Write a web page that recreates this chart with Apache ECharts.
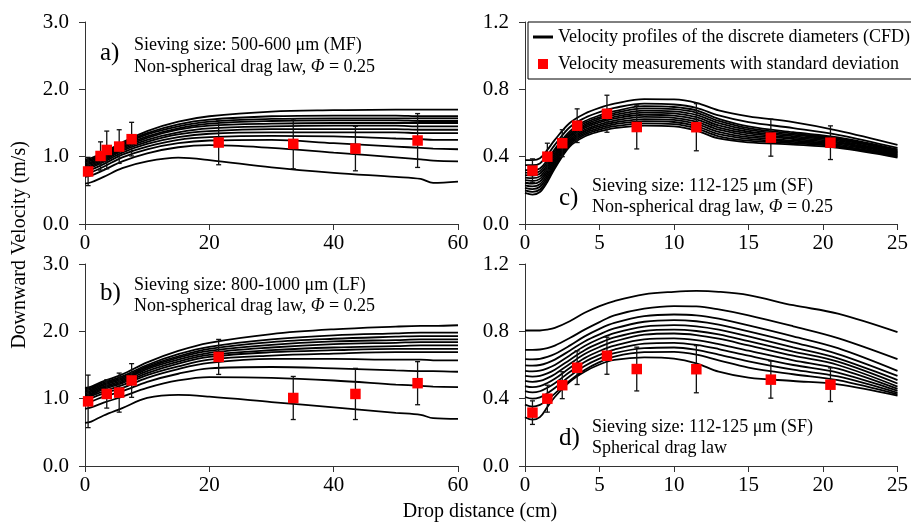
<!DOCTYPE html>
<html>
<head>
<meta charset="utf-8">
<script src="https://cdn.jsdelivr.net/npm/echarts@6/dist/echarts.min.js"></script>
<style>html,body{margin:0;padding:0;background:#fff}#c{width:911px;height:523px}</style>
</head>
<body>
<div id="c"></div>
<script>
// ---------- data ----------
const xTicksAB = [0, 20, 40, 60];
const xTicksCD = [0, 5, 10, 15, 20, 25];
const distCurveAB = [0, 1, 3, 6, 10, 15, 20, 30, 40, 50, 54, 56, 60];
const distCurveCD = [0, 0.5, 1, 1.5, 2, 3, 4, 5, 6, 8, 10, 11.5, 13, 15, 18, 21, 25];

// panel a: MF, non-spherical
const curvesA = [
  [0.96,0.98,1.06,1.21,1.38,1.52,1.60,1.67,1.69,1.70,1.70,1.70,1.70],
  [0.94,0.96,1.04,1.19,1.35,1.48,1.55,1.60,1.61,1.61,1.60,1.60,1.60],
  [0.92,0.94,1.02,1.17,1.33,1.45,1.52,1.56,1.57,1.57,1.57,1.57,1.57],
  [0.90,0.92,1.00,1.15,1.30,1.42,1.49,1.53,1.54,1.54,1.53,1.53,1.53],
  [0.88,0.90,0.98,1.13,1.28,1.40,1.46,1.49,1.50,1.50,1.50,1.50,1.50],
  [0.86,0.88,0.96,1.11,1.25,1.36,1.42,1.45,1.46,1.46,1.45,1.45,1.45],
  [0.84,0.86,0.94,1.09,1.22,1.33,1.38,1.41,1.41,1.41,1.40,1.40,1.40],
  [0.82,0.84,0.92,1.06,1.19,1.29,1.34,1.36,1.36,1.36,1.35,1.35,1.35],
  [0.79,0.81,0.89,1.03,1.15,1.25,1.29,1.31,1.30,1.27,1.26,1.25,1.25],
  [0.75,0.77,0.85,0.99,1.11,1.20,1.24,1.25,1.20,1.15,1.13,1.12,1.11],
  [0.70,0.72,0.80,0.93,1.05,1.14,1.17,1.13,1.06,0.99,0.96,0.94,0.93],
  [0.60,0.62,0.70,0.83,0.93,0.985,0.95,0.84,0.76,0.70,0.67,0.61,0.63]
];
// panel b: LF, non-spherical
const curvesB = [
  [1.16,1.18,1.26,1.36,1.54,1.71,1.83,1.96,2.03,2.07,2.08,2.08,2.09],
  [1.14,1.16,1.24,1.33,1.50,1.66,1.77,1.88,1.94,1.97,1.98,1.98,1.98],
  [1.12,1.14,1.22,1.31,1.48,1.63,1.74,1.84,1.89,1.92,1.93,1.93,1.93],
  [1.10,1.12,1.20,1.29,1.46,1.61,1.71,1.80,1.85,1.87,1.88,1.88,1.88],
  [1.08,1.10,1.18,1.27,1.44,1.58,1.68,1.76,1.81,1.83,1.84,1.84,1.84],
  [1.06,1.08,1.16,1.25,1.41,1.55,1.65,1.72,1.76,1.78,1.79,1.79,1.79],
  [1.04,1.06,1.14,1.23,1.38,1.52,1.62,1.69,1.72,1.74,1.74,1.74,1.74],
  [1.02,1.04,1.11,1.20,1.35,1.48,1.58,1.64,1.67,1.69,1.69,1.69,1.69],
  [0.99,1.01,1.08,1.16,1.31,1.44,1.53,1.59,1.59,1.58,1.58,1.57,1.57],
  [0.94,0.96,1.03,1.11,1.25,1.37,1.45,1.47,1.45,1.42,1.41,1.41,1.40],
  [0.85,0.87,0.94,1.03,1.16,1.27,1.32,1.31,1.27,1.21,1.19,1.18,1.17],
  [0.64,0.66,0.75,0.86,1.01,1.055,1.03,0.95,0.87,0.79,0.76,0.71,0.70]
];
// panel c: SF, non-spherical
const curvesC = [
  [0.38,0.38,0.39,0.44,0.50,0.60,0.655,0.69,0.715,0.742,0.74,0.72,0.675,0.64,0.605,0.555,0.47],
  [0.35,0.35,0.36,0.41,0.47,0.575,0.63,0.665,0.69,0.715,0.71,0.69,0.645,0.605,0.57,0.53,0.452],
  [0.32,0.32,0.33,0.38,0.445,0.55,0.61,0.645,0.67,0.70,0.695,0.675,0.625,0.58,0.545,0.515,0.443],
  [0.305,0.304,0.314,0.366,0.432,0.54,0.60,0.634,0.659,0.687,0.682,0.662,0.612,0.569,0.537,0.508,0.438],
  [0.29,0.288,0.299,0.351,0.419,0.53,0.59,0.624,0.648,0.674,0.669,0.648,0.599,0.559,0.529,0.501,0.432],
  [0.275,0.272,0.283,0.337,0.407,0.52,0.58,0.613,0.637,0.662,0.657,0.635,0.586,0.548,0.521,0.494,0.427],
  [0.26,0.256,0.268,0.322,0.394,0.51,0.57,0.603,0.626,0.649,0.644,0.622,0.573,0.538,0.513,0.487,0.422],
  [0.245,0.24,0.252,0.308,0.381,0.50,0.56,0.592,0.614,0.636,0.631,0.608,0.56,0.527,0.505,0.48,0.416],
  [0.23,0.223,0.236,0.294,0.368,0.49,0.55,0.582,0.603,0.623,0.618,0.595,0.547,0.516,0.496,0.473,0.411],
  [0.215,0.207,0.221,0.279,0.356,0.48,0.54,0.571,0.592,0.611,0.606,0.582,0.534,0.506,0.488,0.466,0.406],
  [0.20,0.191,0.205,0.265,0.343,0.47,0.53,0.561,0.581,0.598,0.593,0.568,0.521,0.495,0.48,0.459,0.40],
  [0.185,0.175,0.19,0.25,0.33,0.46,0.52,0.55,0.57,0.585,0.58,0.555,0.508,0.485,0.472,0.452,0.395]
];
// panel d: SF, spherical
const curvesD = [
  [0.805,0.805,0.805,0.81,0.82,0.86,0.91,0.95,0.98,1.02,1.035,1.04,1.035,1.015,0.955,0.905,0.795],
  [0.69,0.69,0.692,0.70,0.715,0.76,0.81,0.855,0.895,0.935,0.95,0.948,0.93,0.895,0.83,0.76,0.635],
  [0.635,0.634,0.637,0.648,0.665,0.715,0.77,0.815,0.85,0.89,0.90,0.895,0.875,0.835,0.77,0.70,0.565],
  [0.598,0.596,0.60,0.613,0.632,0.685,0.74,0.782,0.817,0.857,0.867,0.86,0.84,0.80,0.735,0.665,0.535],
  [0.565,0.562,0.566,0.58,0.60,0.657,0.713,0.756,0.79,0.828,0.837,0.83,0.81,0.77,0.705,0.64,0.51],
  [0.535,0.531,0.535,0.55,0.572,0.63,0.688,0.73,0.764,0.802,0.81,0.802,0.782,0.742,0.68,0.62,0.49],
  [0.506,0.50,0.505,0.522,0.545,0.606,0.665,0.707,0.74,0.78,0.787,0.778,0.756,0.716,0.655,0.60,0.472],
  [0.475,0.468,0.474,0.493,0.518,0.582,0.641,0.683,0.715,0.752,0.758,0.748,0.724,0.685,0.628,0.578,0.458],
  [0.445,0.437,0.444,0.465,0.492,0.558,0.618,0.66,0.692,0.727,0.732,0.72,0.695,0.655,0.60,0.555,0.446],
  [0.41,0.40,0.408,0.432,0.463,0.533,0.594,0.638,0.67,0.70,0.704,0.69,0.662,0.622,0.572,0.532,0.435],
  [0.365,0.353,0.363,0.392,0.43,0.507,0.57,0.617,0.65,0.676,0.678,0.662,0.628,0.585,0.545,0.51,0.426],
  [0.29,0.275,0.29,0.35,0.41,0.50,0.56,0.603,0.63,0.645,0.638,0.61,0.56,0.525,0.505,0.485,0.418]
];

// measurements
const distMF = [0.5, 2.5, 3.5, 5.5, 7.5, 21.5, 33.5, 43.5, 53.5];
const velMF  = [0.78, 1.01, 1.10, 1.15, 1.26, 1.21, 1.19, 1.12, 1.24];
const sdMF   = [0.21, 0.21, 0.28, 0.25, 0.25, 0.33, 0.37, 0.33, 0.40];
const distLF = [0.5, 3.5, 5.5, 7.5, 21.5, 33.5, 43.5, 53.5];
const velLF  = [0.96, 1.07, 1.09, 1.27, 1.62, 1.01, 1.07, 1.23];
const sdLF   = [0.39, 0.21, 0.29, 0.25, 0.26, 0.32, 0.38, 0.32];
const distSF = [0.5, 1.5, 2.5, 3.5, 5.5, 7.5, 11.5, 16.5, 20.5];
const velSF  = [0.317, 0.40, 0.48, 0.584, 0.655, 0.576, 0.575, 0.513, 0.483];
const sdSF   = [0.07, 0.08, 0.08, 0.10, 0.11, 0.13, 0.14, 0.11, 0.10];

const LINE_NAME = 'Velocity profiles of the discrete diameters (CFD)';
const PT_NAME = 'Velocity measurements with standard deviation';

// ---------- chart ----------
const FONT = '"Liberation Serif", "Times New Roman", serif';
const AXC = '#333';
const grids = [
  {left: 85, top: 22, width: 373, height: 202},
  {left: 85, top: 264, width: 373, height: 202},
  {left: 525, top: 22, width: 373, height: 202},
  {left: 525, top: 264, width: 373, height: 202}
];
function xAx(gi, ticks) {
  return {type: 'value', gridIndex: gi, min: ticks[0], max: ticks[ticks.length - 1],
    interval: ticks[1] - ticks[0],
    axisLine: {show: true, onZero: false, lineStyle: {color: AXC, width: 1}},
    axisTick: {show: true, length: 6, lineStyle: {color: AXC}},
    axisLabel: {margin: 9, fontFamily: FONT, fontSize: 21, color: '#000'},
    splitLine: {show: false}};
}
function yAx(gi, max, interval) {
  return {type: 'value', gridIndex: gi, min: 0, max: max, interval: interval,
    axisLine: {show: true, lineStyle: {color: AXC, width: 1}},
    axisTick: {show: true, length: 6, lineStyle: {color: AXC}},
    axisLabel: {margin: 16, fontFamily: FONT, fontSize: 21, color: '#000',
      formatter: v => v.toFixed(1)},
    splitLine: {show: false}};
}
const series = [];
function addPanel(gi, dist, curves, md, mv, msd) {
  curves.forEach(c => {
    series.push({type: 'line', name: LINE_NAME, xAxisIndex: gi, yAxisIndex: gi,
      data: dist.map((d, i) => [d, c[i]]), symbol: 'none', smooth: 0.35,
      lineStyle: {color: '#000', width: 1.8}, itemStyle: {color: '#000'}, z: 2, silent: true});
  });
  series.push({type: 'custom', name: 'sd', xAxisIndex: gi, yAxisIndex: gi, z: 3,
    data: md.map((d, i) => [d, mv[i], msd[i]]),
    renderItem: (params, api) => {
      const x = api.value(0), y = api.value(1), e = api.value(2);
      const t = api.coord([x, y + e]), b = api.coord([x, y - e]);
      const w = 2.5, st = {stroke: '#111', lineWidth: 1.3};
      return {type: 'group', children: [
        {type: 'line', shape: {x1: t[0], y1: t[1], x2: b[0], y2: b[1]}, style: st},
        {type: 'line', shape: {x1: t[0] - w, y1: t[1], x2: t[0] + w, y2: t[1]}, style: st},
        {type: 'line', shape: {x1: b[0] - w, y1: b[1], x2: b[0] + w, y2: b[1]}, style: st}
      ]};
    }});
  series.push({type: 'scatter', name: PT_NAME, xAxisIndex: gi, yAxisIndex: gi, z: 4,
    data: md.map((d, i) => [d, mv[i]]), symbol: 'rect', symbolSize: 10.5,
    itemStyle: {color: '#ff0000', opacity: 1}});
}
addPanel(0, distCurveAB, curvesA, distMF, velMF, sdMF);
addPanel(1, distCurveAB, curvesB, distLF, velLF, sdLF);
addPanel(2, distCurveCD, curvesC, distSF, velSF, sdSF);
addPanel(3, distCurveCD, curvesD, distSF, velSF, sdSF);

function txt(x, y, s, size) {
  return {type: 'text', x: x, y: y, z: 10,
    style: {text: s, fontFamily: FONT, fontSize: size, fill: '#000', verticalAlign: 'middle',
      rich: {i: {fontFamily: FONT, fontSize: size, fontStyle: 'italic', fill: '#000'}}}};
}
const graphics = [
  txt(100, 53, 'a)', 25), txt(134, 45, 'Sieving size: 500-600 μm (MF)', 18), txt(134, 67, 'Non-spherical drag law, {i|Φ} = 0.25', 18),
  txt(100, 293, 'b)', 25), txt(134, 285, 'Sieving size: 800-1000 μm (LF)', 18), txt(134, 306, 'Non-spherical drag law, {i|Φ} = 0.25', 18),
  txt(559, 198, 'c)', 25), txt(592, 186, 'Sieving size: 112-125 μm (SF)', 18), txt(592, 207, 'Non-spherical drag law, {i|Φ} = 0.25', 18),
  txt(559, 438, 'd)', 25), txt(592, 427, 'Sieving size: 112-125 μm (SF)', 18), txt(592, 448, 'Spherical drag law', 18),
  {type: 'text', x: 480, y: 512, z: 10, style: {text: 'Drop distance (cm)', fontFamily: FONT, fontSize: 20, fill: '#000', align: 'center', verticalAlign: 'middle'}},
  {type: 'text', x: 20, y: 245, rotation: Math.PI / 2, z: 10, style: {text: 'Downward Velocity (m/s)', fontFamily: FONT, fontSize: 20, fill: '#000', align: 'center', verticalAlign: 'middle'}}
];

const chart = echarts.init(document.getElementById('c'), null, {renderer: 'canvas'});
chart.setOption({
  animation: false,
  backgroundColor: '#fff',
  textStyle: {fontFamily: FONT},
  grid: grids,
  xAxis: [xAx(0, xTicksAB), xAx(1, xTicksAB), xAx(2, xTicksCD), xAx(3, xTicksCD)],
  yAxis: [yAx(0, 3, 1), yAx(1, 3, 1), yAx(2, 1.2, 0.4), yAx(3, 1.2, 0.4)],
  legend: {
    left: 528, top: 22, orient: 'vertical', backgroundColor: '#fff', borderColor: '#000', borderWidth: 1,
    borderRadius: 0, padding: [6, 6, 6, 5], itemGap: 9, itemWidth: 20, itemHeight: 10, z: 20,
    textStyle: {fontFamily: FONT, fontSize: 18, color: '#000'},
    selectedMode: false,
    data: [{name: LINE_NAME, icon: 'path://M0,0H20V3H0Z', itemStyle: {color: '#000'}},
           {name: PT_NAME, icon: 'path://M0,0H10V10H0Z', itemStyle: {color: '#ff0000'}}]
  },
  graphic: graphics,
  series: series
});
</script>
</body>
</html>
